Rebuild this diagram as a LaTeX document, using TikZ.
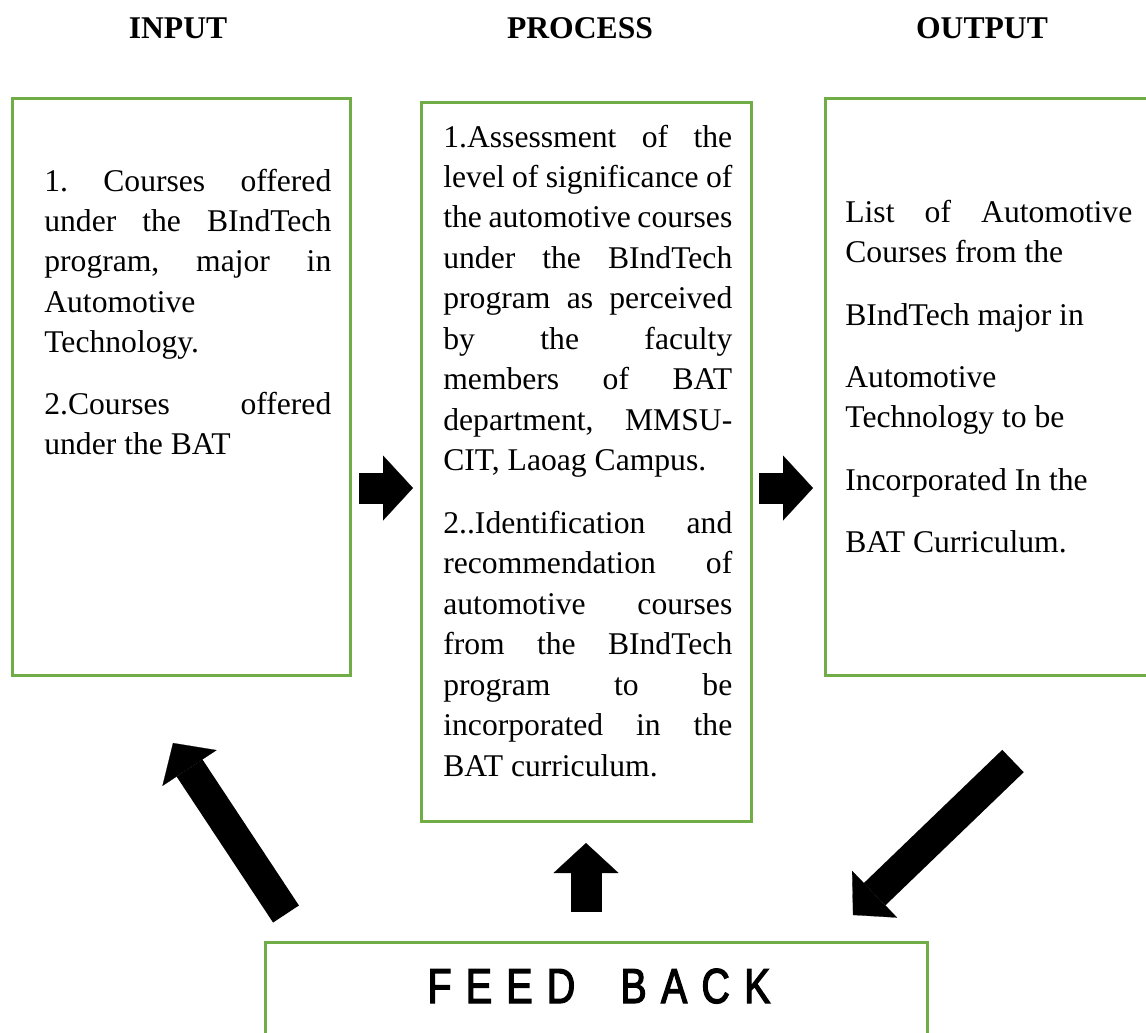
\documentclass[tikz,border=0pt]{standalone}
\usepackage{fontspec}
\setmainfont{Liberation Serif}
\newfontfamily\fbfont[FakeStretch=0.8,FakeBold=2.5,LetterSpace=29]{Liberation Sans}
\usepackage{xcolor}
\definecolor{boxgreen}{HTML}{70AD47}
\usetikzlibrary{positioning,arrows.meta}
\newcommand{\nohyph}{\hyphenpenalty=10000\relax\frenchspacing}

\begin{document}
\begin{tikzpicture}[x=0.02cm, y=-0.02cm]
		\tikzstyle{box}=[draw=boxgreen, line width=0.06cm, inner sep=0]
		\tikzstyle{txt}=[inner sep=0, anchor=base west, align=justify, font=\fontsize{18pt}{0.81cm}\selectfont\nohyph]
		\tikzstyle{head}=[inner sep=0, anchor=base, font=\fontsize{18pt}{0.8cm}\selectfont\bfseries]
		\tikzstyle{fatarrow}=[line width=0.62cm, -{Triangle[length=0.6cm, width=1.3cm, line width=0.1pt]}]
		\useasboundingbox (0,0) rectangle (1146,1032);

		\node[head] (inhead) at (178,38) {INPUT};
		\node[head] (prochead) at (580,38) {PROCESS};
		\node[head] (outhead) at (982,38) {OUTPUT};

		\node[box, minimum width=6.78cm, minimum height=11.56cm] (inbox) at (181.5,387) {};
		\node[box, minimum width=6.62cm, minimum height=14.4cm] (procbox) at (586.5,462) {};
		\node[box, minimum width=7cm, minimum height=11.56cm] (outbox) at (1000,387) {};
		\node[box, minimum width=13.26cm, minimum height=2.36cm] (fbbox) at (596.5,1001) {};

		\node[txt, text width=5.74cm] (intext) at (44,191) {1. Courses offered\linebreak under the BIndTech\linebreak program, major in\linebreak Automotive\\ Technology.\\[0.42cm]
			2.Courses offered\linebreak under the BAT};
		\node[txt, text width=5.78cm] (proctext) at (443,147) {1.Assessment of the\linebreak level of significance of\linebreak the automotive courses\linebreak under the BIndTech\linebreak program as perceived\linebreak by the faculty\linebreak members of BAT\linebreak department, MMSU-\linebreak CIT, Laoag Campus.\\[0.44cm]
			2..Identification and\linebreak recommendation of\linebreak automotive courses\linebreak from the BIndTech\linebreak program to be\linebreak incorporated in the\linebreak BAT curriculum.};
		\node[txt, text width=5.74cm, font=\fontsize{18pt}{0.8cm}\selectfont] (outtext) at (845,222) {List of Automotive\linebreak Courses from the\\[0.48cm] BIndTech major in\\[0.44cm] Automotive\\ Technology to be\\[0.46cm] Incorporated In the\\[0.44cm] BAT Curriculum.};

		\node[inner sep=0, anchor=base, font=\fbfont\fontsize{28pt}{34pt}\selectfont] (fbtext) at (599,1003) {FEED\hspace{0.4cm} BACK};

		%block arrows
		\coordinate (ra1s) at (359,488);
		\coordinate (ra1e) at (413,488);
		\coordinate (ra2s) at (759,488);
		\coordinate (ra2e) at (813,488);
		\coordinate (uas) at (586,912);
		\coordinate (uae) at (586,843);
		\coordinate (lds) at (286,914);
		\coordinate (lde) at (173,743);
		\coordinate (rds) at (1013,761);
		\coordinate (rde) at (853,915);
		\draw[fatarrow] (ra1s) -- (ra1e);
		\draw[fatarrow] (ra2s) -- (ra2e);
		\draw[fatarrow] (uas) -- (uae);
		\draw[fatarrow] (lds) -- (lde);
		\draw[fatarrow] (rds) -- (rde);

	\end{tikzpicture}
\end{document}
